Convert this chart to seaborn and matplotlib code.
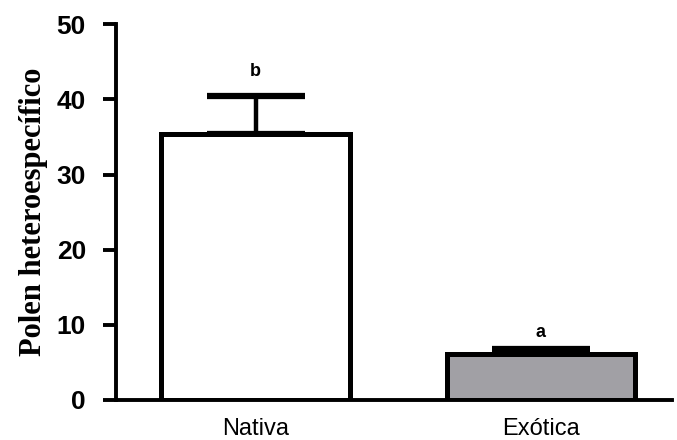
import matplotlib
matplotlib.use("Agg")
import matplotlib.pyplot as plt
import seaborn as sns
import pandas as pd

categories = ["Nativa", "Exótica"]
means = [35.4, 6.1]
errors = [5.0, 0.7]
letters = ["b", "a"]
bar_colors = ["#ffffff", "#a1a0a5"]
yticks = [0, 10, 20, 30, 40, 50]

sns.set_theme(style="ticks")
plt.rcParams['font.family'] = ['Liberation Sans', 'DejaVu Sans']
plt.rcParams['text.color'] = 'black'
plt.rcParams['xtick.color'] = 'black'
plt.rcParams['ytick.color'] = 'black'
plt.rcParams['axes.labelcolor'] = 'black'

df = pd.DataFrame({"cat": categories, "val": means})

fig = plt.figure(figsize=(6.77, 4.40), dpi=100)
ax = fig.add_axes([0.171, 0.091, 0.822, 0.854])

sns.barplot(data=df, x="cat", y="val", hue="cat", palette=bar_colors,
            order=categories, hue_order=categories, legend=False,
            errorbar=None, width=0.66, edgecolor="black", linewidth=3.6,
            saturation=1, ax=ax, zorder=2)

eb = ax.errorbar(range(len(categories)), means, yerr=[[0]*len(errors), errors],
                 fmt="none", ecolor="black", elinewidth=3.2, capsize=35,
                 capthick=4.5, zorder=1)
for cap in eb[1]:
    cap.set_solid_capstyle("round")

letter_offsets = [2.2, 1.0]
for i, (m, e, l, o) in enumerate(zip(means, errors, letters, letter_offsets)):
    ax.text(i, m + e + o, l, ha="center", va="bottom", fontsize=13,
            fontweight="bold")

ax.set_xlim(-0.49, 1.46)
ax.set_ylim(0, 50)
ax.set_yticks(yticks)
ax.set_yticklabels([str(t) for t in yticks], fontsize=19, fontweight="bold")
ax.set_xticks(range(len(categories)))
ax.set_xticklabels(categories, fontsize=17)
ax.tick_params(axis="y", direction="out", length=9.5, width=2.8, pad=12)
ax.tick_params(axis="x", length=0, pad=13)
ax.set_xlabel("")
ax.set_ylabel("Polen heteroespecífico", fontsize=22, fontweight="bold",
              family=["Liberation Serif", "DejaVu Serif"], labelpad=6)
for s in ["top", "right"]:
    ax.spines[s].set_visible(False)
for s in ["left", "bottom"]:
    ax.spines[s].set_linewidth(2.8)
    ax.spines[s].set_color("black")

fig.savefig("out.png", dpi=100)
